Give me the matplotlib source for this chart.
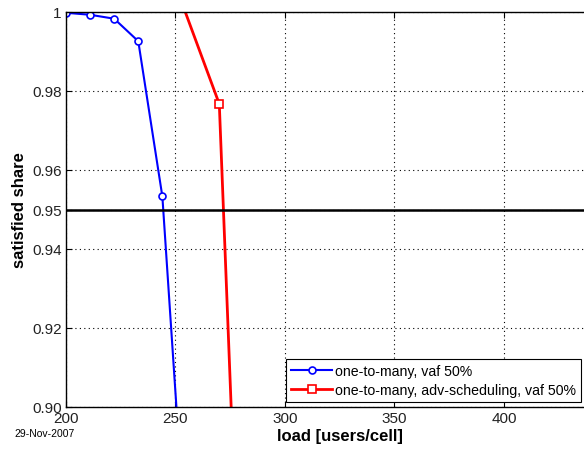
import numpy as np
import matplotlib
matplotlib.use("Agg")
import matplotlib.pyplot as plt

# data
blue_x = [200, 211, 222, 233, 244, 255]
blue_y = [0.9998, 0.9993, 0.9983, 0.9926, 0.9533, 0.862]
red_x = [248, 270, 281]
red_y = [1.0097, 0.9767, 0.821]
thresh = 0.95

yticks = [0.90, 0.92, 0.94, 0.95, 0.96, 0.98, 1.0]
ylabels = ["0.90", "0.92", "0.94", "0.95", "0.96", "0.98", "1"]
xticks = [200, 250, 300, 350, 400]

plt.rcParams['font.family'] = ['Liberation Sans', 'DejaVu Sans']

fig = plt.figure(figsize=(5.84, 4.52), dpi=100)
# axes runs past the right edge of the figure, like the reference
ax = fig.add_axes([66/584, 44/452, 547.5/584, 395/452])

ax.plot(blue_x, blue_y, '-o', color='blue', lw=1.5, ms=5, mfc='white', mew=1.2,
        label='one-to-many, vaf 50%')
ax.plot(red_x, red_y, '-s', color='red', lw=2, ms=5.5, mfc='white', mew=1.2,
        label='one-to-many, adv-scheduling, vaf 50%')
ax.axhline(thresh, color='black', lw=1.8)

ax.set_xlim(200, 450)
ax.set_ylim(0.90, 1.0)
ax.set_xticks(xticks)
ax.set_yticks(yticks)
ax.set_yticklabels(ylabels)
ax.tick_params(direction='in', labelsize=11, length=4, top=True, right=True, pad=3,
               labelcolor='#222222')
ax.grid(True, color='black', linestyle=(0, (1, 3)), linewidth=0.8)
for s in ax.spines.values():
    s.set_linewidth(1.0)

ax.set_xlabel('load [users/cell]', fontsize=12, fontweight='bold', labelpad=2)
ax.set_ylabel('satisfied share', fontsize=12, fontweight='bold', labelpad=4)

leg = ax.legend(loc='lower right', bbox_to_anchor=(581/584, 49/452),
                bbox_transform=fig.transFigure, borderaxespad=0, fontsize=10.2,
                fancybox=False, framealpha=1, edgecolor='black',
                handlelength=2.9, handletextpad=0.2, borderpad=0.35,
                labelspacing=0.35)
leg.get_frame().set_linewidth(0.8)

fig.text(14/584, 1 - 437/452, '29-Nov-2007', fontsize=7.5)

fig.savefig('out.png', dpi=100)
